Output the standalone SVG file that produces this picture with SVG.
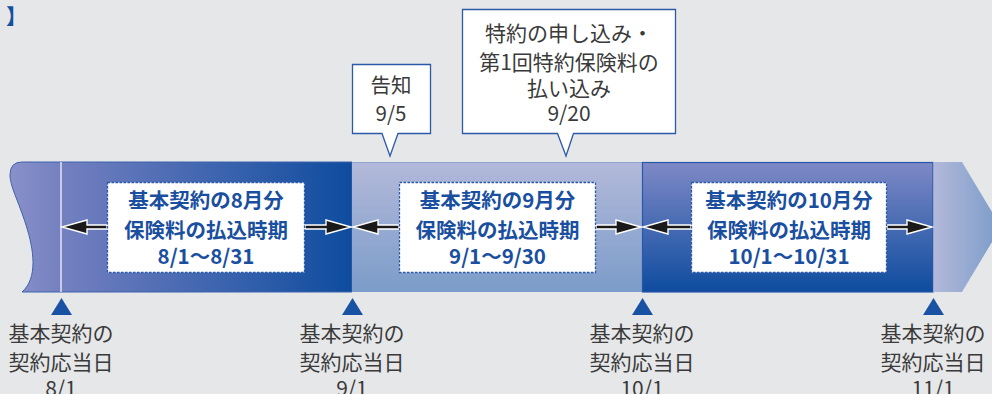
<svg xmlns="http://www.w3.org/2000/svg" width="992" height="394" viewBox="0 0 992 394">
<defs>
<linearGradient id="g1" x1="10" y1="0" x2="352" y2="0" gradientUnits="userSpaceOnUse">
<stop offset="0" stop-color="#8a91c9"/><stop offset="0.15" stop-color="#7480c0"/><stop offset="1" stop-color="#0e4c9f"/>
</linearGradient>
<linearGradient id="g2" x1="0" y1="162" x2="0" y2="292" gradientUnits="userSpaceOnUse">
<stop offset="0" stop-color="#b3b9da"/><stop offset="1" stop-color="#7b9cc9"/>
</linearGradient>
<linearGradient id="g3" x1="0" y1="162" x2="0" y2="292" gradientUnits="userSpaceOnUse">
<stop offset="0" stop-color="#7f89c6"/><stop offset="1" stop-color="#0e4c9f"/>
</linearGradient>
<linearGradient id="g4" x1="933" y1="0" x2="1000" y2="0" gradientUnits="userSpaceOnUse">
<stop offset="0" stop-color="#b3b9da"/><stop offset="1" stop-color="#7b9cc9"/>
</linearGradient>
<style>
.lbl{font-family:"Noto Sans CJK JP","Noto Sans",sans-serif;font-size:21px;fill:#3a3a3a;text-anchor:middle}
.cl{font-family:"Noto Sans CJK JP","Noto Sans",sans-serif;font-size:20.5px;fill:#3a3a3a;text-anchor:middle}
.in{font-family:"Noto Sans CJK JP","Noto Sans",sans-serif;font-size:20.5px;font-weight:700;fill:#1a4f9f;text-anchor:middle}
.box{fill:#fff;stroke:#2d5aa8;stroke-width:1.3}
.dash{fill:#fff;stroke:#2d5aa8;stroke-width:1.3;stroke-dasharray:2.5 1.5}
.arr{fill:#1a1a1a;stroke:#fff;stroke-width:1.4;stroke-linejoin:miter}
.tri{fill:#1a52a3}
</style>
</defs>
<rect width="992" height="394" fill="#e6e7e9"/>
<text x="6" y="24" font-family="Noto Sans CJK JP,sans-serif" font-size="21" font-weight="700" fill="#1550a0">】</text>

<g id="band">
<path d="M22 162 H352 V292 H22 C38 278 34 250 26 225 C18 200 10 186 10 175 Q10 162 22 162 Z" fill="url(#g1)" stroke="#3d63ad" stroke-width="1"/>
<rect x="352" y="162" width="290" height="130" fill="url(#g2)"/>
<line x1="352" y1="162.5" x2="642" y2="162.5" stroke="#8ea4cf" stroke-width="1"/>
<rect x="642.5" y="162.5" width="290.5" height="129.5" fill="url(#g3)" stroke="#2a58a8" stroke-width="1.2"/>
<path d="M933.5 162 H962 L1001 227 L962 292 H933.5 Z" fill="url(#g4)"/>
<line x1="61" y1="162" x2="61" y2="292" stroke="#fff" stroke-width="1.2"/>
</g>

<g id="connectors">
<polygon class="arr" points="107,225 87,225 87,220 62,227 87,234 87,229 107,229"/>
<polygon class="arr" points="305,225 326,225 326,220 351,227 326,234 326,229 305,229"/>
<polygon class="arr" points="399,225 378,225 378,220 353,227 378,234 378,229 399,229"/>
<polygon class="arr" points="596,225 616,225 616,220 641,227 616,234 616,229 596,229"/>
<polygon class="arr" points="691,225 668,225 668,220 643,227 668,234 668,229 691,229"/>
<polygon class="arr" points="887,225 907,225 907,220 932,227 907,234 907,229 887,229"/>
</g>

<g id="period-aug">
<rect class="dash" x="107.5" y="182.5" width="197" height="90"/>
<text class="in" x="206" y="208">基本契約の8月分</text>
<text class="in" x="206" y="238">保険料の払込時期</text>
<text class="in" x="206" y="264">8/1〜8/31</text>
</g>
<g id="period-sep">
<rect class="dash" x="399.5" y="182.5" width="196" height="90"/>
<text class="in" x="497.5" y="208">基本契約の9月分</text>
<text class="in" x="497.5" y="238">保険料の払込時期</text>
<text class="in" x="497.5" y="264">9/1〜9/30</text>
</g>
<g id="period-oct">
<rect class="dash" x="691.5" y="182.5" width="195" height="90"/>
<text class="in" x="789" y="208">基本契約の10月分</text>
<text class="in" x="789" y="238">保険料の払込時期</text>
<text class="in" x="789" y="264">10/1〜10/31</text>
</g>

<g id="callout-notice">
<path class="box" d="M352.5 64.5 H430.5 V133.5 H398 L390 156 L382 133.5 H352.5 Z"/>
<text class="cl" x="391" y="93">告知</text>
<text class="cl" x="391" y="121">9/5</text>
</g>
<g id="callout-rider">
<path class="box" d="M462.5 9.5 H675.5 V133.5 H573.5 L566 156 L557.5 133.5 H462.5 Z"/>
<text class="lbl" x="569" y="41">特約の申し込み・</text>
<text class="lbl" x="569" y="70">第1回特約保険料の</text>
<text class="lbl" x="569" y="96">払い込み</text>
<text class="lbl" x="569" y="121">9/20</text>
</g>

<g id="date-0801">
<polygon class="tri" points="51,315 61.5,298 72,315"/>
<text class="lbl" x="61" y="341">基本契約の</text>
<text class="lbl" x="61" y="370">契約応当日</text>
<text class="lbl" x="61" y="396">8/1</text>
</g>
<g id="date-0901">
<polygon class="tri" points="342,315 352.5,298 363,315"/>
<text class="lbl" x="352" y="341">基本契約の</text>
<text class="lbl" x="352" y="370">契約応当日</text>
<text class="lbl" x="352" y="396">9/1</text>
</g>
<g id="date-1001">
<polygon class="tri" points="632,315 642.5,298 653,315"/>
<text class="lbl" x="642" y="341">基本契約の</text>
<text class="lbl" x="642" y="370">契約応当日</text>
<text class="lbl" x="642" y="396">10/1</text>
</g>
<g id="date-1101">
<polygon class="tri" points="923,315 933.5,298 944,315"/>
<text class="lbl" x="933" y="341">基本契約の</text>
<text class="lbl" x="933" y="370">契約応当日</text>
<text class="lbl" x="933" y="396">11/1</text>
</g>
</svg>
